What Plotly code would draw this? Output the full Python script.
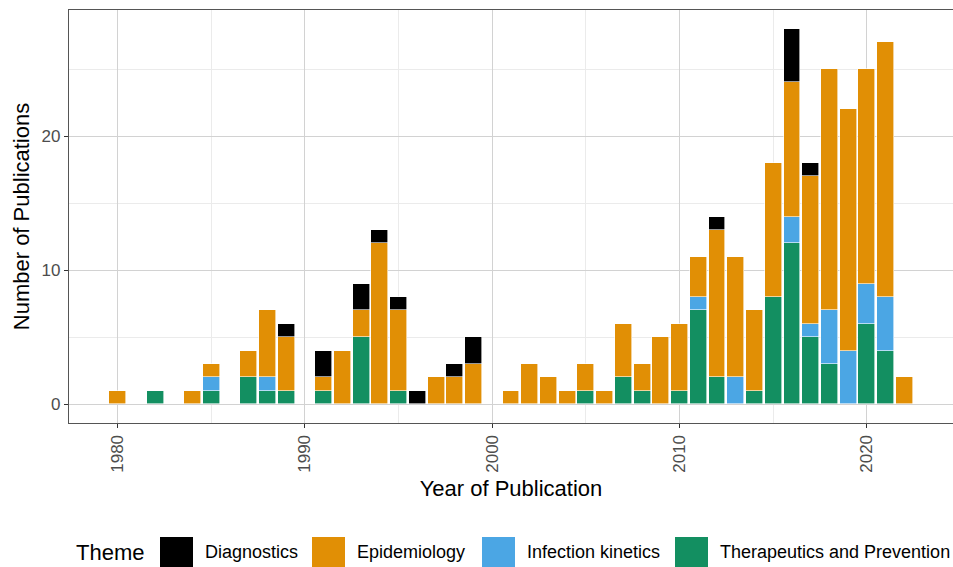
import plotly.graph_objects as go

# ---------------- data ----------------
years = list(range(1980, 2023))
#                 1980                          1990                          2000                          2010                          2020
diagnostics     = [0,0,0,0,0,0,0,0,0,1, 0,2,0,2,1,1,1,0,1,2, 0,0,0,0,0,0,0,0,0,0, 0,0,1,0,0,0,4,1,0,0, 0,0,0]
epidemiology    = [1,0,0,0,1,1,0,2,5,4, 0,1,4,2,12,6,0,2,2,3, 0,1,3,2,1,2,1,4,2,5, 5,3,11,9,6,10,10,11,18,18, 16,19,2]
infection_kin   = [0,0,0,0,0,1,0,0,1,0, 0,0,0,0,0,0,0,0,0,0, 0,0,0,0,0,0,0,0,0,0, 0,1,0,2,0,0,2,1,4,4, 3,4,0]
therapeutics    = [0,0,1,0,0,1,0,2,1,1, 0,1,0,5,0,1,0,0,0,0, 0,0,0,0,0,1,0,2,1,0, 1,7,2,0,1,8,12,5,3,0, 6,4,0]

themes = ["Diagnostics", "Epidemiology", "Infection kinetics", "Therapeutics and Prevention"]
series = {
    "Diagnostics": diagnostics,
    "Epidemiology": epidemiology,
    "Infection kinetics": infection_kin,
    "Therapeutics and Prevention": therapeutics,
}
colors = {
    "Diagnostics": "#000000",
    "Epidemiology": "#E18F05",
    "Infection kinetics": "#4BA6E4",
    "Therapeutics and Prevention": "#138F61",
}
x_ticks = [1980, 1990, 2000, 2010, 2020]
y_ticks = [0, 10, 20]

# ---------------- layout geometry ----------------
W, H = 953, 567
L, R, T, B = 69, 0, 10, 144
pw, ph = W - L - R, H - T - B
FONT = "Liberation Sans, Arial, sans-serif"

fig = go.Figure()
# stacking order from bottom: Therapeutics, Infection kinetics, Epidemiology, Diagnostics
for name in reversed(themes):
    vals = series[name]
    fig.add_trace(go.Bar(
        x=years,
        y=[v if v else None for v in vals],
        name=name,
        width=0.9,
        marker=dict(color=colors[name], line=dict(color="white", width=0.6)),
        showlegend=False,
    ))

fig.update_layout(
    width=W, height=H,
    margin=dict(l=L, r=R, t=T, b=B, pad=0, autoexpand=False),
    barmode="stack",
    plot_bgcolor="white",
    paper_bgcolor="white",
    font=dict(family=FONT, color="black"),
    bargap=0,
)

fig.update_xaxes(
    automargin=False,
    range=[1977.4, 2024.6],
    tickmode="array", tickvals=x_ticks, ticktext=[str(t) for t in x_ticks],
    tickangle=-90,
    ticks="outside", ticklen=4, tickcolor="#333333", tickwidth=1,
    tickfont=dict(size=17, color="#4D4D4D", family=FONT),
    showline=True, linecolor="#555555", linewidth=1.3, mirror=True,
    showgrid=True, gridcolor="#D2D2D2", gridwidth=1,
    minor=dict(tickmode="array", tickvals=[1985, 1995, 2005, 2015], showgrid=True,
               gridcolor="#EBEBEB", gridwidth=1, ticks=""),
    zeroline=False,
    title=dict(text="Year of Publication", font=dict(size=22, family=FONT, color="black"), standoff=8),
)
fig.update_yaxes(
    automargin=False,
    range=[-1.4, 29.4],
    tickmode="array", tickvals=y_ticks, ticktext=[str(t) for t in y_ticks],
    ticks="outside", ticklen=4, tickcolor="#333333", tickwidth=1,
    tickfont=dict(size=17, color="#4D4D4D", family=FONT),
    showline=True, linecolor="#555555", linewidth=1.3, mirror=False,
    showgrid=True, gridcolor="#D2D2D2", gridwidth=1,
    minor=dict(tickmode="array", tickvals=[5, 15, 25], showgrid=True,
               gridcolor="#EBEBEB", gridwidth=1, ticks=""),
    zeroline=False,
    title=dict(text="Number of Publications", font=dict(size=22, family=FONT, color="black"), standoff=5),
)

# ---------------- manual legend (bottom) ----------------
def px_x(px):
    return (px - L) / pw

def px_y(py):
    return (H - B - py) / ph

legend_cy = 552
fig.add_annotation(text="Theme", x=px_x(74), y=px_y(legend_cy), xref="paper", yref="paper",
                   xanchor="left", yanchor="middle", showarrow=False,
                   font=dict(size=22, family=FONT, color="black"))
swatch_x = [160, 312, 482, 675]
for name, sx in zip(themes, swatch_x):
    fig.add_shape(type="rect", xref="paper", yref="paper",
                  x0=px_x(sx), x1=px_x(sx + 33), y0=px_y(537), y1=px_y(570),
                  fillcolor=colors[name], line=dict(width=0), layer="above")
    fig.add_annotation(text=name, x=px_x(sx + 43), y=px_y(legend_cy), xref="paper", yref="paper",
                       xanchor="left", yanchor="middle", showarrow=False,
                       font=dict(size=18, family=FONT, color="black"))

fig.write_html(
    "out.html",
    config={"responsive": False, "displayModeBar": False},
    post_script="document.body.style.margin='0';document.body.style.overflow='hidden';",
)
